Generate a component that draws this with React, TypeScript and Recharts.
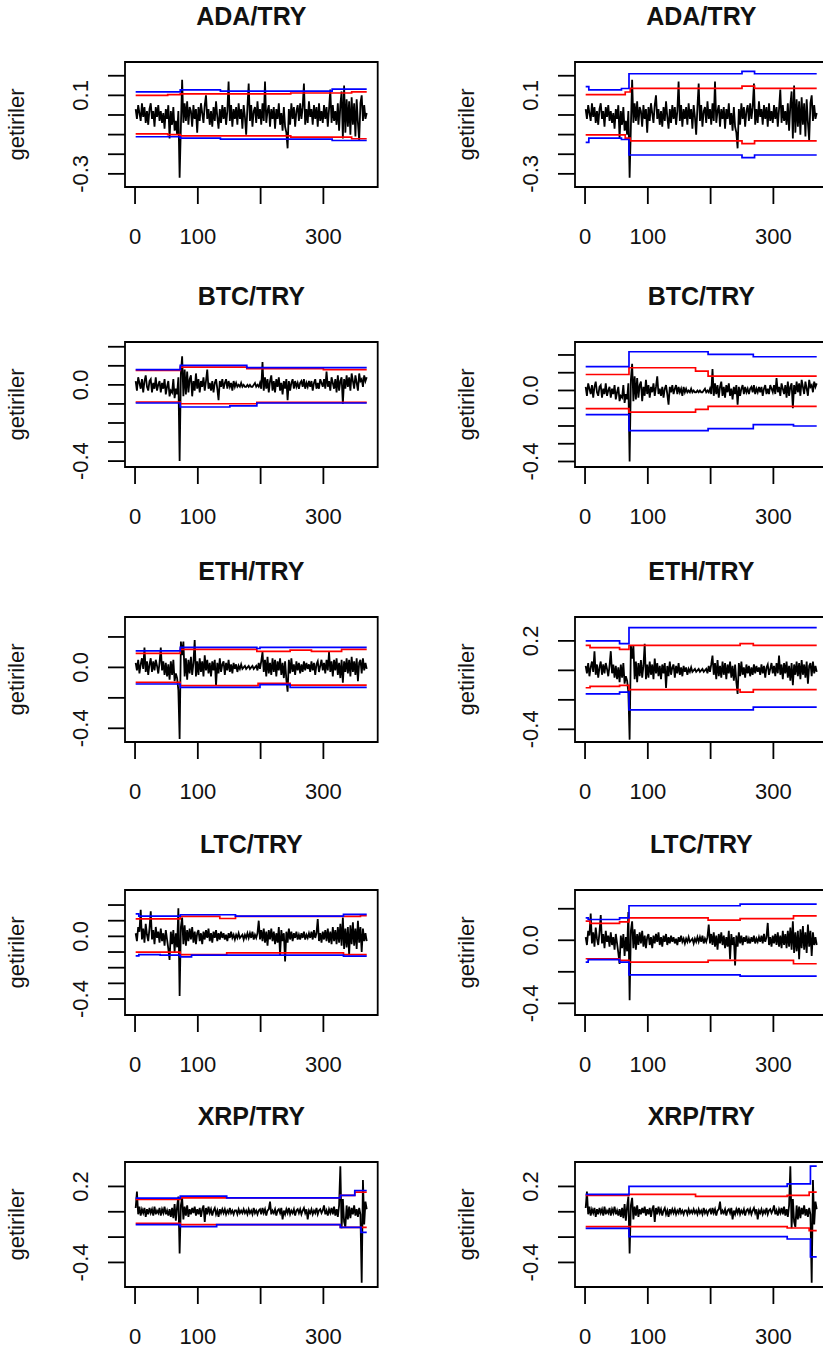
import { LineChart, Line, XAxis, YAxis, ReferenceArea } from "recharts";

type Point = [number, number];

// daily returns in %, read every 2nd day: day 1, 3, 5, ... 369
const adaReturns = [
  3, -2, 5, 1, -3, 6, -1, 4, -4, 2, -5, 3, 6, -2, 2, -6, 4, -1, 5, -3,
  2, -4, 1, -7, 3, -2, 5, -12, 2, -5, 4, -8, -3, -10, 2, -32, -6, 18, -4, 6,
  -3, 7, -5, 4, 2, -6, 5, -2, 3, -9, 4, -3, 6, 1, -4, 5, 10, -2, 3, -5,
  2, -6, 4, -3, 7, -1, -7, 3, -4, 5, -2, 4, -5, 2, 17, -3, 5, -6, 3, -2,
  4, -5, 6, -2, 3, -7, 5, -1, -10, 4, 16, -3, 5, -6, 2, 4, -4, 7, -2, 3,
  -5, 6, -3, 17, -4, 2, 5, -6, 3, -2, 4, -7, 3, -2, 6, -5, 1, -8, 4, -6,
  -9, -17, 3, -5, 6, -2, 4, -6, 2, 5, -3, 6, -2, 4, 16, -5, 3, -4, 7, -1,
  3, -5, 5, -2, 4, -6, 6, -3, 2, -4, 5, -2, 4, -6, 3, 13, -4, 5, -3, 2,
  -5, 6, -8, 5, 12, -12, 15, -9, 8, -6, 7, -10, 9, -5, 6, -11, 8, -4, -13, 6,
  10, -3, 5, -2, 1,
];

const btcReturns = [
  2, -3, 4, 1, -2, 3, -4, 2, 5, -1, -3, 2, 3, -4, 1, -2, 4, -3, 0, 2,
  -4, 1, -2, 3, -5, -1, 2, -6, -3, -4, 3, -7, -2, -5, 4, -40, 6, 15, -6, 8,
  -5, 7, -4, 3, 5, -6, 2, -3, 6, -2, 3, -4, 2, -1, 4, -3, 2, 8, -2, 1,
  -3, 2, -4, 1, 3, -2, -8, 2, -1, 3, -2, 1, 3, -2, 2, -1, 1, -3, 2, -1,
  1, -1, 0, -1, 1, -1, 0, -1, -1, 0, -1, 0, -1, -1, 0, 1, -1, 0, -1, 1,
  -2, 12, -3, 4, -2, 3, -4, 2, 5, -3, 2, -4, 3, -1, 4, -3, 1, -5, 2, -2,
  3, -8, 2, -3, 1, 3, -2, 2, -1, 1, -2, 1, 2, -1, 3, -2, 1, -1, 2, -1,
  2, -3, 1, 3, -2, 1, -2, 3, 1, -1, 3, -2, 7, -1, 2, -3, 4, 1, -2, 3,
  -4, 5, -3, 2, 4, -10, 3, -2, 5, -1, 4, -3, 6, 2, -2, 5, 1, -3, 6, 2,
  3, -1, 5, 2, 4,
];

const ethReturns = [
  3, -2, 5, -4, 2, 6, -1, 13, -3, 4, -5, 2, 6, -3, 4, -2, 5, 1, -4, 3,
  13, -2, 4, -5, 3, -6, 2, -8, 4, -5, 5, -9, -4, -7, -15, -47, 17, 8, 17, -6,
  6, -8, 5, -4, 7, -5, 3, 18, -6, 4, -5, 6, -3, 4, -6, 8, -2, 5, -4, 3,
  -6, 4, -2, 5, -12, 3, -4, 6, -3, 2, 4, -5, 3, -2, 5, -3, 2, -4, 3, -1,
  2, -3, 1, -1, 2, -1, 0, 1, -1, 0, 1, -1, 0, 1, -1, 0, 1, -2, 3, -1,
  4, 10, -3, 5, -6, 7, -4, 3, -5, 6, -3, 5, -6, 4, -2, 6, -5, 3, -7, 4,
  -8, -16, 5, -4, 6, -3, 2, -5, 4, -2, 3, -4, 2, -3, 4, -2, 3, -1, 2, -3,
  4, -2, 3, -5, 2, 4, -3, 1, 5, -2, 3, -4, 5, -2, 10, -3, 4, -6, 5, -2,
  6, -5, 3, -7, 5, -10, 4, -3, 6, -4, 5, -6, 7, -3, 4, -5, 6, -9, 3, 5,
  -4, 6, -2, 3, -1,
];

const ltcReturns = [
  2, -3, 6, 3, 17, -2, 5, -4, 8, 1, -3, 5, 16, -2, 4, -5, 6, -1, 3, -4,
  5, -3, 2, -6, 4, -2, -8, -15, 3, -5, 4, -10, 2, -7, 18, -38, 6, 12, -5, 7,
  -6, 4, -3, 5, -2, 6, -4, 3, -5, 2, 4, -3, 2, -5, 3, -2, 4, -1, 5, -3,
  2, -4, 3, -1, 4, -3, 2, -2, 3, -1, 2, -2, 1, -3, 2, -1, 3, -1, 1, -2,
  1, -1, 2, -1, 0, 1, -2, 1, -1, 2, -1, 2, -1, 3, -2, 1, -1, 2, 10, -2,
  4, -3, 5, -4, 3, -6, 4, -2, 5, -3, 3, -5, 2, -4, 6, -12, 4, -3, 2, -16,
  3, -4, 5, -2, 3, -3, 2, -1, 3, -2, 1, -2, 2, -1, 3, -2, 1, -1, 2, -1,
  3, -2, 4, -1, 2, 11, -3, 2, -4, 3, -2, 4, -3, 5, -4, 3, -5, 6, -3, 4,
  -5, 6, -4, 8, -6, 12, -8, 5, -7, 6, -12, 7, -5, 9, -6, 5, -8, 10, -4, 6,
  -10, 5, -3, 2, -3,
];

const xrpReturns = [
  3, 16, -2, 4, -3, 2, -1, 3, -4, 2, -2, 3, -1, 2, -3, 4, -2, 1, -1, 3,
  -3, 2, -1, 4, -2, 1, -3, 2, -4, 3, -5, 6, -7, 4, 12, -33, 5, 11, -6, 4,
  -3, 5, -4, 2, -2, 3, -1, 4, -3, 2, -2, 3, -4, 2, 5, -8, 3, -2, 4, -1,
  2, -3, 1, 3, -2, 1, -4, 2, -1, 2, -1, 2, -2, 1, -1, 3, -1, 1, -2, 1,
  1, -2, 2, -1, 1, -1, 2, -1, 1, -2, 2, -1, 1, -2, 3, -1, 1, -2, 1, 2,
  -2, 3, -1, 2, -3, 1, 2, 8, -2, 1, -1, 2, -3, 1, 2, -1, 3, -6, 1, -2,
  2, -1, 3, -2, 1, -1, 2, -3, 1, 2, -1, 2, -2, 1, 3, -1, 2, -6, 1, -1,
  2, -2, 1, -1, 3, -2, 1, 2, -1, 1, 5, -2, 1, -3, 2, -1, 3, -2, 4, -3,
  2, -4, 5, 36, -13, 10, -8, -12, 5, -6, 4, -5, 3, -2, 5, -3, 2, -4, 3, -2,
  -56, 25, -10, 8, 2,
];

// risk bands: [day, value] breakpoints of step lines
const adaLeftRedUpper: Point[] = [[1, 0.1], [52, 0.104], [72, 0.108], [248, 0.112], [345, 0.118], [369, 0.118]];
const adaLeftBlueUpper: Point[] = [[1, 0.118], [72, 0.128], [136, 0.122], [314, 0.132], [369, 0.132]];
const adaLeftRedLower: Point[] = [[1, -0.096], [52, -0.1], [72, -0.106], [248, -0.113], [345, -0.121], [369, -0.121]];
const adaLeftBlueLower: Point[] = [[1, -0.111], [72, -0.118], [136, -0.123], [314, -0.13], [369, -0.13]];

const adaRightRedUpper: Point[] = [[1, 0.104], [64, 0.117], [72, 0.136], [250, 0.147], [270, 0.136], [369, 0.136]];
const adaRightBlueUpper: Point[] = [[1, 0.145], [6, 0.128], [58, 0.135], [70, 0.21], [250, 0.222], [270, 0.21], [369, 0.21]];
const adaRightRedLower: Point[] = [[1, -0.101], [64, -0.118], [72, -0.132], [250, -0.146], [270, -0.132], [369, -0.132]];
const adaRightBlueLower: Point[] = [[1, -0.14], [6, -0.118], [58, -0.125], [70, -0.204], [250, -0.217], [270, -0.204], [369, -0.204]];

const btcLeftRedUpper: Point[] = [[1, 0.076], [72, 0.093], [178, 0.085], [300, 0.08], [369, 0.08]];
const btcLeftBlueUpper: Point[] = [[1, 0.08], [72, 0.102], [178, 0.09], [369, 0.09]];
const btcLeftRedLower: Point[] = [[1, -0.09], [72, -0.099], [194, -0.092], [369, -0.092]];
const btcLeftBlueLower: Point[] = [[1, -0.095], [72, -0.116], [151, -0.11], [194, -0.095], [369, -0.095]];

const btcRightRedUpper: Point[] = [[1, 0.09], [70, 0.128], [176, 0.109], [196, 0.081], [369, 0.081]];
const btcRightBlueUpper: Point[] = [[1, 0.134], [70, 0.218], [196, 0.203], [268, 0.19], [369, 0.19]];
const btcRightRedLower: Point[] = [[1, -0.102], [70, -0.122], [176, -0.107], [196, -0.089], [369, -0.089]];
const btcRightBlueLower: Point[] = [[1, -0.136], [70, -0.226], [196, -0.215], [268, -0.192], [332, -0.2], [369, -0.2]];

const ethLeftRedUpper: Point[] = [[1, 0.092], [72, 0.118], [194, 0.105], [247, 0.114], [281, 0.105], [329, 0.118], [369, 0.118]];
const ethLeftBlueUpper: Point[] = [[1, 0.109], [72, 0.131], [194, 0.124], [199, 0.131], [369, 0.131]];
const ethLeftRedLower: Point[] = [[1, -0.098], [72, -0.12], [196, -0.105], [247, -0.116], [369, -0.116]];
const ethLeftBlueLower: Point[] = [[1, -0.109], [72, -0.131], [199, -0.113], [247, -0.131], [369, -0.131]];

const ethRightRedUpper: Point[] = [[1, 0.17], [8, 0.154], [55, 0.143], [70, 0.17], [247, 0.181], [268, 0.17], [369, 0.17]];
const ethRightBlueUpper: Point[] = [[1, 0.2], [55, 0.181], [70, 0.29], [369, 0.29]];
const ethRightRedLower: Point[] = [[1, -0.118], [8, -0.109], [55, -0.102], [70, -0.131], [247, -0.147], [268, -0.131], [369, -0.131]];
const ethRightBlueLower: Point[] = [[1, -0.159], [55, -0.147], [70, -0.268], [268, -0.25], [369, -0.25]];

const ltcLeftRedUpper: Point[] = [[1, 0.112], [72, 0.127], [135, 0.114], [160, 0.127], [359, 0.133], [369, 0.133]];
const ltcLeftBlueUpper: Point[] = [[1, 0.144], [6, 0.129], [72, 0.138], [160, 0.129], [332, 0.14], [369, 0.14]];
const ltcLeftRedLower: Point[] = [[1, -0.1], [72, -0.116], [146, -0.106], [332, -0.116], [369, -0.116]];
const ltcLeftBlueLower: Point[] = [[1, -0.125], [6, -0.116], [40, -0.12], [72, -0.131], [90, -0.12], [332, -0.126], [369, -0.126]];

const ltcRightRedUpper: Point[] = [[1, 0.121], [8, 0.107], [55, 0.117], [70, 0.142], [196, 0.128], [247, 0.138], [332, 0.155], [369, 0.155]];
const ltcRightBlueUpper: Point[] = [[1, 0.142], [5, 0.132], [55, 0.142], [70, 0.219], [247, 0.23], [369, 0.23]];
const ltcRightRedLower: Point[] = [[1, -0.117], [55, -0.128], [70, -0.138], [196, -0.128], [332, -0.149], [369, -0.149]];
const ltcRightBlueLower: Point[] = [[1, -0.138], [5, -0.123], [55, -0.138], [70, -0.219], [247, -0.228], [369, -0.228]];

const xrpLeftRedUpper: Point[] = [[1, 0.097], [72, 0.11], [327, 0.129], [350, 0.155], [369, 0.155]];
const xrpLeftBlueUpper: Point[] = [[1, 0.107], [72, 0.123], [146, 0.11], [327, 0.129], [350, 0.168], [369, 0.168]];
const xrpLeftRedLower: Point[] = [[1, -0.091], [72, -0.102], [327, -0.123], [369, -0.123]];
const xrpLeftBlueLower: Point[] = [[1, -0.102], [72, -0.117], [130, -0.102], [327, -0.123], [360, -0.163], [369, -0.163]];

const xrpRightRedUpper: Point[] = [[1, 0.129], [70, 0.137], [176, 0.121], [322, 0.129], [357, 0.155], [369, 0.155]];
const xrpRightBlueUpper: Point[] = [[1, 0.137], [70, 0.2], [322, 0.221], [359, 0.361], [369, 0.361]];
const xrpRightRedLower: Point[] = [[1, -0.117], [322, -0.128], [357, -0.149], [369, -0.149]];
const xrpRightBlueLower: Point[] = [[1, -0.131], [70, -0.197], [322, -0.215], [359, -0.356], [369, -0.356]];

const xTicks = [0, 100, 200, 300];
const xTickLabels = [0, 100, 300];

const FONT = '"Liberation Sans", Arial, Helvetica, sans-serif';
const PANEL_W = 400;
const TOP_GAP = 62;
const BOX_LEFT = 125;
const BOX_RIGHT = 377.7;
const BOX_H = 125;
const X_AXIS_H = 70;
const PANEL_H = TOP_GAP + BOX_H + X_AXIS_H;
const X_DOMAIN: [number, number] = [-16, 386.5];

interface Bands {
  redUpper: Point[];
  blueUpper: Point[];
  redLower: Point[];
  blueLower: Point[];
}

interface Side {
  bands: Bands;
  domain: [number, number];
  ticks: number[];
  labels: number[];
}

const XTick = (props: any) => {
  const { x, y, payload } = props;
  if (!xTickLabels.includes(payload.value)) return <g />;
  return (
    <text x={x} y={y + 40.3} textAnchor="middle" fontSize={22} fontFamily={FONT} fill="#111">
      {payload.value}
    </text>
  );
};

const makeYTick = (labels: number[]) => (props: any) => {
  const { x, y, payload } = props;
  if (!labels.some((l) => Math.abs(l - payload.value) < 1e-9)) return <g />;
  const bx = x - 19.7;
  return (
    <text
      x={bx}
      y={y}
      transform={`rotate(-90 ${bx} ${y})`}
      textAnchor="middle"
      fontSize={22}
      fontFamily={FONT}
      fill="#111"
    >
      {payload.value.toFixed(1)}
    </text>
  );
};

const rows = (pts: Point[]) => pts.map(([day, value]) => ({ day, value }));

function Panel({ title, returns, side, left, boxTop }: { title: string; returns: number[]; side: Side; left: number; boxTop: number }) {
  const returnRows = returns.map((v, i) => ({ day: 1 + 2 * i, value: v / 100 }));
  const band = (pts: Point[], color: string) => (
    <Line
      data={rows(pts)}
      dataKey="value"
      type="stepAfter"
      stroke={color}
      strokeWidth={1.7}
      dot={false}
      activeDot={false}
      isAnimationActive={false}
    />
  );
  return (
    <div style={{ position: "absolute", left, top: boxTop - TOP_GAP, width: PANEL_W, height: PANEL_H }}>
      <LineChart
        width={PANEL_W}
        height={PANEL_H}
        margin={{ top: TOP_GAP, right: PANEL_W - BOX_RIGHT, bottom: 0, left: 0 }}
      >
        <XAxis
          type="number"
          dataKey="day"
          domain={X_DOMAIN}
          ticks={xTicks}
          interval={0}
          allowDataOverflow
          height={X_AXIS_H}
          tickSize={17}
          tickMargin={0}
          axisLine={false}
          tickLine={{ stroke: "#000", strokeWidth: 1.8 }}
          tick={XTick}
        />
        <YAxis
          type="number"
          domain={side.domain}
          ticks={side.ticks}
          interval={0}
          allowDataOverflow
          width={BOX_LEFT}
          tickSize={17}
          tickMargin={0}
          axisLine={false}
          tickLine={{ stroke: "#000", strokeWidth: 1.8 }}
          tick={makeYTick(side.labels)}
        />
        <ReferenceArea
          x1={X_DOMAIN[0]}
          x2={X_DOMAIN[1]}
          y1={side.domain[0]}
          y2={side.domain[1]}
          fill="none"
          stroke="#000"
          strokeWidth={1.8}
          ifOverflow="visible"
        />
        <Line
          data={returnRows}
          dataKey="value"
          type="linear"
          stroke="#000"
          strokeWidth={1.8}
          dot={false}
          activeDot={false}
          isAnimationActive={false}
        />
        {band(side.bands.redUpper, "#ff0000")}
        {band(side.bands.redLower, "#ff0000")}
        {band(side.bands.blueUpper, "#0000ff")}
        {band(side.bands.blueLower, "#0000ff")}
      </LineChart>
      <svg
        width={PANEL_W}
        height={PANEL_H}
        style={{ position: "absolute", left: 0, top: 0, pointerEvents: "none", overflow: "visible" }}
      >
        <text
          x={(BOX_LEFT + BOX_RIGHT) / 2}
          y={TOP_GAP - 36.7}
          textAnchor="middle"
          fontSize={25}
          fontWeight="bold"
          fontFamily={FONT}
          fill="#111"
        >
          {title}
        </text>
        <text
          x={BOX_LEFT - 101}
          y={TOP_GAP + BOX_H / 2}
          transform={`rotate(-90 ${BOX_LEFT - 101} ${TOP_GAP + BOX_H / 2})`}
          textAnchor="middle"
          fontSize={22}
          fontFamily={FONT}
          fill="#111"
        >
          getiriler
        </text>
      </svg>
    </div>
  );
}

const ticksFine = [-0.4, -0.3, -0.2, -0.1, 0, 0.1, 0.2];
const ticksWide = [-0.4, -0.2, 0, 0.2];
const ticksAda = [-0.3, -0.2, -0.1, 0, 0.1, 0.2];

const panels = [
  {
    title: "ADA/TRY",
    returns: adaReturns,
    boxTop: 61.5,
    leftSide: {
      bands: { redUpper: adaLeftRedUpper, blueUpper: adaLeftBlueUpper, redLower: adaLeftRedLower, blueLower: adaLeftBlueLower },
      domain: [-0.367, 0.27] as [number, number],
      ticks: ticksAda,
      labels: [0.1, -0.3],
    },
    rightSide: {
      bands: { redUpper: adaRightRedUpper, blueUpper: adaRightBlueUpper, redLower: adaRightRedLower, blueLower: adaRightBlueLower },
      domain: [-0.367, 0.27] as [number, number],
      ticks: ticksAda,
      labels: [0.1, -0.3],
    },
  },
  {
    title: "BTC/TRY",
    returns: btcReturns,
    boxTop: 342,
    leftSide: {
      bands: { redUpper: btcLeftRedUpper, blueUpper: btcLeftBlueUpper, redLower: btcLeftRedLower, blueLower: btcLeftBlueLower },
      domain: [-0.431, 0.225] as [number, number],
      ticks: ticksFine,
      labels: [0, -0.4],
    },
    rightSide: {
      bands: { redUpper: btcRightRedUpper, blueUpper: btcRightBlueUpper, redLower: btcRightRedLower, blueLower: btcRightBlueLower },
      domain: [-0.431, 0.273] as [number, number],
      ticks: ticksFine,
      labels: [0, -0.4],
    },
  },
  {
    title: "ETH/TRY",
    returns: ethReturns,
    boxTop: 616.5,
    leftSide: {
      bands: { redUpper: ethLeftRedUpper, blueUpper: ethLeftBlueUpper, redLower: ethLeftRedLower, blueLower: ethLeftBlueLower },
      domain: [-0.49, 0.331] as [number, number],
      ticks: ticksWide,
      labels: [0, -0.4],
    },
    rightSide: {
      bands: { redUpper: ethRightRedUpper, blueUpper: ethRightBlueUpper, redLower: ethRightRedLower, blueLower: ethRightBlueLower },
      domain: [-0.486, 0.362] as [number, number],
      ticks: ticksWide,
      labels: [0.2, -0.4],
    },
  },
  {
    title: "LTC/TRY",
    returns: ltcReturns,
    boxTop: 889.5,
    leftSide: {
      bands: { redUpper: ltcLeftRedUpper, blueUpper: ltcLeftBlueUpper, redLower: ltcLeftRedLower, blueLower: ltcLeftBlueLower },
      domain: [-0.502, 0.296] as [number, number],
      ticks: ticksFine,
      labels: [0, -0.4],
    },
    rightSide: {
      bands: { redUpper: ltcRightRedUpper, blueUpper: ltcRightBlueUpper, redLower: ltcRightRedLower, blueLower: ltcRightBlueLower },
      domain: [-0.474, 0.319] as [number, number],
      ticks: ticksWide,
      labels: [0, -0.4],
    },
  },
  {
    title: "XRP/TRY",
    returns: xrpReturns,
    boxTop: 1161.5,
    leftSide: {
      bands: { redUpper: xrpLeftRedUpper, blueUpper: xrpLeftBlueUpper, redLower: xrpLeftRedLower, blueLower: xrpLeftBlueLower },
      domain: [-0.594, 0.393] as [number, number],
      ticks: ticksWide,
      labels: [0.2, -0.4],
    },
    rightSide: {
      bands: { redUpper: xrpRightRedUpper, blueUpper: xrpRightBlueUpper, redLower: xrpRightRedLower, blueLower: xrpRightBlueLower },
      domain: [-0.594, 0.393] as [number, number],
      ticks: ticksWide,
      labels: [0.2, -0.4],
    },
  },
];

export default function App() {
  return (
    <div
      style={{
        position: "absolute",
        left: 0,
        top: 0,
        width: 823,
        height: 1350,
        overflow: "hidden",
        background: "#fff",
      }}
    >
      {panels.map((p) => (
        <div key={p.title}>
          <Panel title={p.title} returns={p.returns} side={p.leftSide} left={0} boxTop={p.boxTop} />
          <Panel title={p.title} returns={p.returns} side={p.rightSide} left={450} boxTop={p.boxTop} />
        </div>
      ))}
    </div>
  );
}
